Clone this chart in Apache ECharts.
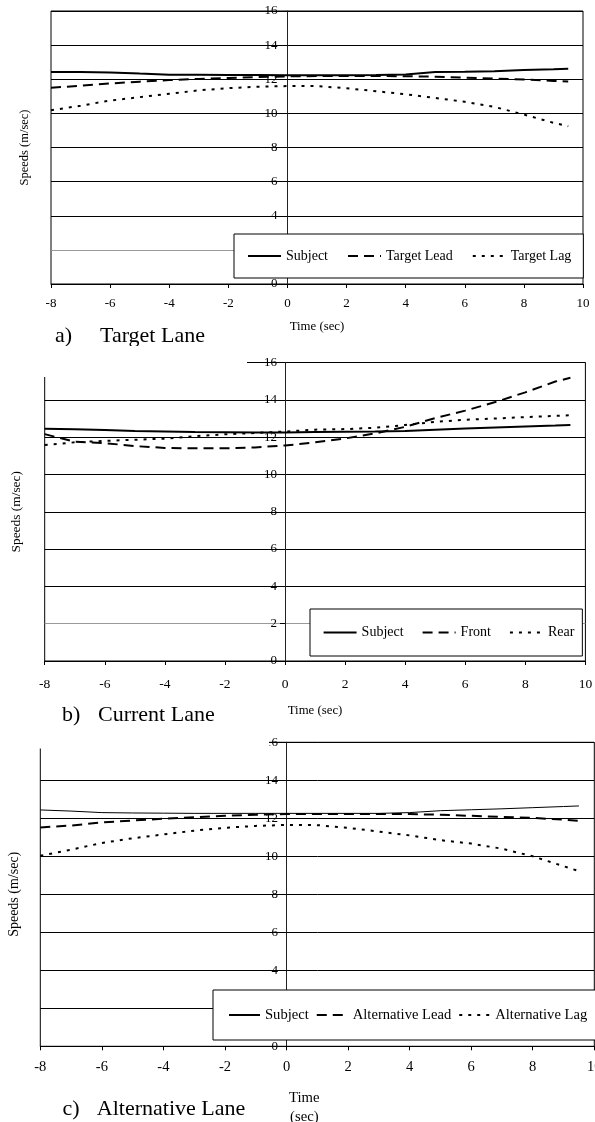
<!DOCTYPE html>
<html>
<head>
<meta charset="utf-8">
<script src="https://cdn.jsdelivr.net/npm/echarts@6/dist/echarts.min.js"></script>
<style>
html,body{margin:0;padding:0;background:#fff;}
#chart{width:595px;height:1122px;}
</style>
</head>
<body>
<div id="chart"></div>
<script>
// ---- data ----
const times = [-8,-7,-6,-5,-4,-3,-2,-1,0,1,2,3,4,5,6,7,8,9,9.5];
const xTicks = [-8,-6,-4,-2,0,2,4,6,8,10];
const yTicks = [0,2,4,6,8,10,12,14,16];

const aSubject = [12.42,12.42,12.40,12.33,12.27,12.26,12.25,12.25,12.24,12.24,12.24,12.25,12.28,12.42,12.44,12.47,12.54,12.59,12.62];
const aLead    = [11.50,11.62,11.75,11.86,11.95,12.02,12.08,12.13,12.17,12.19,12.19,12.19,12.18,12.15,12.09,12.04,11.99,11.90,11.87];
const aLag     = [10.18,10.45,10.75,10.95,11.15,11.35,11.48,11.56,11.60,11.60,11.47,11.30,11.12,10.90,10.68,10.38,9.93,9.45,9.25];

const bSubject = [12.45,12.42,12.38,12.33,12.30,12.27,12.26,12.25,12.25,12.28,12.29,12.30,12.33,12.40,12.46,12.52,12.57,12.62,12.65];
const bFront   = [12.16,11.75,11.68,11.52,11.42,11.40,11.40,11.45,11.55,11.72,11.93,12.20,12.55,13.02,13.42,13.88,14.40,14.98,15.18];
const bRear    = [11.58,11.72,11.80,11.86,11.92,12.05,12.15,12.22,12.30,12.40,12.43,12.50,12.65,12.82,12.93,13.00,13.07,13.14,13.17];

const cSubject = [12.44,12.38,12.30,12.28,12.27,12.26,12.26,12.26,12.26,12.26,12.26,12.26,12.30,12.40,12.45,12.50,12.56,12.62,12.65];
const cLead    = [11.52,11.62,11.78,11.88,11.98,12.06,12.13,12.19,12.22,12.22,12.22,12.22,12.22,12.19,12.13,12.07,12.02,11.93,11.87];
const cLag     = [10.03,10.35,10.70,10.95,11.15,11.35,11.50,11.60,11.65,11.64,11.50,11.30,11.10,10.85,10.67,10.40,10.00,9.48,9.22];

const namesA = ['Subject','Target Lead','Target Lag'];
const namesB = ['Subject','Front','Rear'];
const namesC = ['Subject','Alternative Lead','Alternative Lag'];
const captions = [['a)','Target Lane'],['b)','Current Lane'],['c)','Alternative Lane']];

// ---- layout ----
const FONT = 'Liberation Serif, Times New Roman, serif';
const grids = [
  {left:51, top:11, width:532, height:273},
  {left:44.7, top:362.5, width:540.7, height:298.5},
  {left:40.3, top:742.3, width:554, height:304}
];
const tickFont = [13,13.5,14.5];
const yTickFont = [13,13,13];
const xLabelMargin = [13.5,16,13];
const yLabelMargin = [10,8,8.5];
const xNames = ['Time (sec)','Time (sec)','Time\n(sec)'];
const xNameGap = [36,43,42];
const xNameFont = [12.8,12.8,14.7];
const yNameFont = [12.5,13.4,14];
const yNameGap = [256,262,265];
const splitColors = [['#000','#999','#000','#000','#000','#000','#000','#000','#000'],
                     ['#000','#999','#000','#000','#000','#000','#000','#000','#000'],
                     ['#000','#000','#000','#000','#000','#000','#000','#000','#000']];

function toPairs(ys){ return times.map((t,i)=>[t, ys[i]]); }

const xAxis = grids.map((g,i)=>({
  gridIndex:i, type:'value', min:xTicks[0], max:xTicks[xTicks.length-1], interval:2,
  axisLine:{show:true, onZero:false, lineStyle:{color:'#000', width:1}},
  axisTick:{show:true, length:4, lineStyle:{color:'#000'}},
  axisLabel:{margin:xLabelMargin[i], fontSize:tickFont[i], color:'#000', fontFamily:FONT},
  splitLine:{show:false},
  name:xNames[i], nameLocation:'middle', nameGap:xNameGap[i],
  nameTextStyle:{fontSize:xNameFont[i], color:'#000', fontFamily:FONT, lineHeight: i===2?19:14,
    padding: i===2 ? [0,26,0,0] : 0}
}));

// the vertical axis crosses the time axis at t = 0
const yAxis = grids.map((g,i)=>({
  gridIndex:i, type:'value', min:yTicks[0], max:yTicks[yTicks.length-1], interval:2,
  offset: -g.width * (0 - xTicks[0]) / (xTicks[xTicks.length-1] - xTicks[0]),
  axisLine:{show:true, onZero:false, lineStyle:{color:'#222', width:1}},
  axisTick:{show:true, length:5, lineStyle:{color:'#000'}},
  axisLabel:{margin:yLabelMargin[i], fontSize:yTickFont[i], color:'#000', fontFamily:FONT},
  splitLine:{show:true, lineStyle:{color:splitColors[i], width:1}},
  name:'Speeds (m/sec)', nameLocation:'middle', nameGap:yNameGap[i], nameRotate:90,
  nameTextStyle:{fontSize:yNameFont[i], color:'#000', fontFamily:FONT}
}));

function mk(name, data, idx, type, width){
  return {
    name:name, type:'line', xAxisIndex:idx, yAxisIndex:idx, data:toPairs(data),
    symbol:'none', showSymbol:false, smooth:false, silent:true, animation:false,
    lineStyle:{color:'#000', width:width, type:type},
    itemStyle:{color:'#000'}
  };
}
const DASH = [10,6];
const DOT = [3,6];
const series = [
  mk(namesA[0], aSubject, 0, 'solid', 2),
  mk(namesA[1], aLead, 0, DASH, 2),
  mk(namesA[2], aLag, 0, DOT, 2),
  mk(namesB[0], bSubject, 1, 'solid', 2),
  mk(namesB[1], bFront, 1, DASH, 2),
  mk(namesB[2], bRear, 1, DOT, 2),
  mk(namesC[0], cSubject, 2, 'solid', 1),
  mk(namesC[1], cLead, 2, DASH, 2),
  mk(namesC[2], cLag, 2, DOT, 2)
];

const legendBase = {
  orient:'horizontal', backgroundColor:'#fff', borderColor:'#000', borderWidth:1,
  itemHeight:14, selectedMode:false, z:20,
  itemStyle:{color:'transparent', borderWidth:0, opacity:0}
};
const legend = [
  Object.assign({}, legendBase, {data:namesA, left:234, top:234, padding:[15,12,15,13], itemGap:19, itemWidth:33,
    textStyle:{color:'#000', fontFamily:FONT, fontSize:14}}),
  Object.assign({}, legendBase, {data:namesB, left:310, top:609, padding:[16.5,8,16.5,12.6], itemGap:18, itemWidth:33,
    textStyle:{color:'#000', fontFamily:FONT, fontSize:14}}),
  Object.assign({}, legendBase, {data:namesC, left:213, top:990, width:420, padding:[17.5,10,17.5,15], itemGap:7, itemWidth:31,
    textStyle:{color:'#000', fontFamily:FONT, fontSize:14.6}})
];

const capTop = [325.7, 704, 1098];
const capLeft = [[55,100],[62,98],[62.6,96.8]];
const title = [];
captions.forEach((c,i)=>{
  c.forEach((txt,j)=>{
    title.push({text:txt, left:capLeft[i][j], top:capTop[i], padding:0,
      textStyle:{fontSize:22, fontWeight:'normal', color:'#000', fontFamily:FONT, lineHeight:22}});
  });
});

const option = {
  animation:false,
  backgroundColor:'#fff',
  title: title,
  grid: grids.map(g=>Object.assign({show:true, borderColor:'#000', borderWidth:1, backgroundColor:'transparent',
    containLabel:false, outerBoundsMode:'none'}, g)),
  xAxis: xAxis,
  yAxis: yAxis,
  legend: legend,
  series: series,
  graphic: [
    {type:'rect', z:100, shape:{x:0, y:346, width:247, height:31}, style:{fill:'#fff'}},
    {type:'rect', z:100, shape:{x:0, y:733, width:269, height:15.5}, style:{fill:'#fff'}}
  ]
};

const chart = echarts.init(document.getElementById('chart'), null, {renderer:'canvas'});
chart.setOption(option);
</script>
</body>
</html>
